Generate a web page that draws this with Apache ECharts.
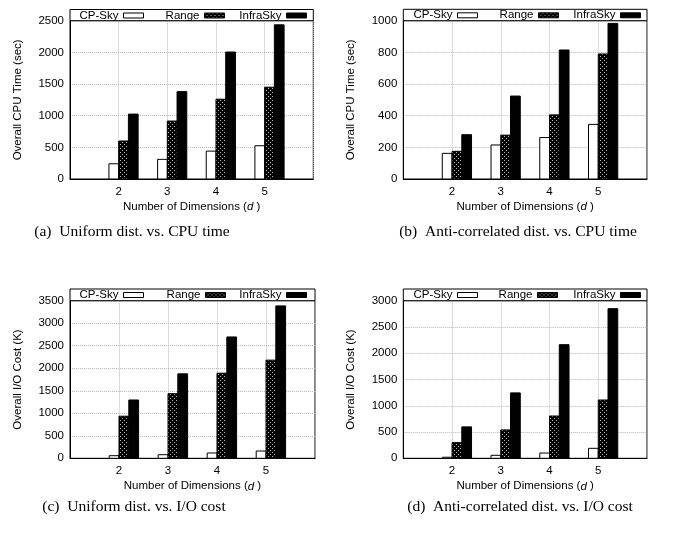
<!DOCTYPE html>
<html>
<head>
<meta charset="utf-8">
<script src="https://cdn.jsdelivr.net/npm/echarts@6/dist/echarts.min.js"></script>
<style>
html,body{margin:0;padding:0;background:#fff;}
#chart{width:692px;height:533px;}
</style>
</head>
<body>
<div id="chart"></div>
<script>
// ---- data ----
const dims = [2, 3, 4, 5];
const seriesNames = ['CP-Sky', 'Range', 'InfraSky'];
// (a) Uniform dist. vs. CPU time (sec)
const aCPSky = [240, 310, 440, 525];
const aRange = [600, 915, 1260, 1450];
const aInfra = [1025, 1380, 2005, 2435];
// (b) Anti-correlated dist. vs. CPU time (sec)
const bCPSky = [162, 215, 262, 345];
const bRange = [175, 277, 405, 790];
const bInfra = [280, 524, 815, 983];
// (c) Uniform dist. vs. I/O cost (K)
const cCPSky = [58, 80, 118, 162];
const cRange = [935, 1435, 1890, 2180];
const cInfra = [1295, 1875, 2695, 3385];
// (d) Anti-correlated dist. vs. I/O cost (K)
const dCPSky = [20, 57, 100, 190];
const dRange = [298, 540, 805, 1110];
const dInfra = [598, 1245, 2163, 2848];
// axis ticks
const yMax = [2500, 1000, 3500, 3000];
const yStep = [500, 200, 500, 500];
const xMin = 1, xMax = 6;
const yTitles = ['Overall CPU Time (sec)', 'Overall CPU Time (sec)', 'Overall I/O Cost (K)', 'Overall I/O Cost (K)'];
const captions = ['(a)\u2002Uniform dist. vs. CPU time', '(b)\u2002Anti-correlated dist. vs. CPU time',
                  '(c)\u2002Uniform dist. vs. I/O cost', '(d)\u2002Anti-correlated dist. vs. I/O cost'];

const panels = [
  [aCPSky, aRange, aInfra],
  [bCPSky, bRange, bInfra],
  [cCPSky, cRange, cInfra],
  [dCPSky, dRange, dInfra]
];

// ---- layout ----
const grids = [
  {left: 70, top: 20.7, width: 243.3, height: 158.3},
  {left: 403.3, top: 20.7, width: 243.7, height: 158.3},
  {left: 70, top: 300.7, width: 245, height: 157.6},
  {left: 403.3, top: 300.7, width: 243.7, height: 157.6}
];
const keyTop = [9.5, 9.3, 289, 289];
const iconRight = [[144, 225, 307], [478, 559, 641], [144, 226, 307], [478, 558, 641]];
const captionPos = [[132, 232], [518, 232], [134, 507], [520, 507]];

// dotted pattern for Range bars
const pc = document.createElement('canvas');
pc.width = 4; pc.height = 4;
const px = pc.getContext('2d');
px.fillStyle = '#000'; px.fillRect(0, 0, 4, 4);
px.fillStyle = '#b8b8b8';
px.fillRect(0, 0, 1, 1); px.fillRect(2, 2, 1, 1);
const rangePattern = {image: pc, repeat: 'repeat'};

const fills = ['#fff', rangePattern, '#000'];
const FONT = 'Liberation Sans, Arial, Helvetica, sans-serif';

const chart = echarts.init(document.getElementById('chart'), null, {renderer: 'canvas'});

const option = {
  animation: false,
  backgroundColor: '#fff',
  grid: [], xAxis: [], yAxis: [], series: [], legend: [], graphic: []
};

panels.forEach(function(vals, g) {
  option.grid.push(Object.assign({show: true, borderColor: '#000', borderWidth: 1, backgroundColor: 'transparent', containLabel: false}, grids[g]));
  option.xAxis.push({
    type: 'value', gridIndex: g, min: xMin, max: xMax, interval: 1,
    axisLine: {show: true, lineStyle: {color: '#000', width: 1}},
    axisTick: {show: false},
    axisLabel: {color: '#000', fontFamily: FONT, fontSize: 11.5, margin: 7,
      formatter: function(v){ return (v > xMin && v < xMax) ? String(v) : ''; }},
    splitLine: {show: true, lineStyle: {color: '#b8b8b8', type: 'dotted', width: 1}},
    name: '{n|Number of Dimensions (}{i|d}{n| )}',
    nameLocation: 'middle', nameGap: 22,
    nameTextStyle: {color: '#000', fontFamily: FONT, fontSize: 11.5,
      rich: {n: {fontFamily: FONT, fontSize: 11.5, color: '#000'},
             i: {fontFamily: FONT, fontSize: 11.5, fontStyle: 'italic', color: '#000'}}}
  });
  option.yAxis.push({
    type: 'value', gridIndex: g, min: 0, max: yMax[g], interval: yStep[g],
    axisLine: {show: true, lineStyle: {color: '#000', width: 1}},
    axisTick: {show: false},
    axisLabel: {color: '#000', fontFamily: FONT, fontSize: 11.5, margin: 6,
      formatter: function(v){ return String(v); }},
    splitLine: {show: true, lineStyle: {color: '#b8b8b8', type: 'dotted', width: 1}},
    name: yTitles[g], nameLocation: 'middle', nameGap: 46,
    nameTextStyle: {color: '#000', fontFamily: FONT, fontSize: 11.5}
  });
  vals.forEach(function(arr, k) {
    option.series.push({
      type: 'custom', name: seriesNames[k], xAxisIndex: g, yAxisIndex: g,
      itemStyle: {color: k === 1 ? '#222' : fills[k]},
      data: dims.map(function(d, i){ return [d, arr[i]]; }),
      renderItem: function(params, api) {
        const d = api.value(0), v = api.value(1);
        const left = api.coord([d + (k - 1) * 0.2, v]);
        const right = api.coord([d + k * 0.2, 0]);
        return {
          type: 'rect',
          shape: {x: left[0], y: left[1], width: right[0] - left[0], height: right[1] - left[1]},
          style: {fill: fills[k], stroke: '#000', lineWidth: 1}
        };
      },
      z: 3
    });
  });
  // key box
  option.graphic.push({
    type: 'rect', z: 1,
    shape: {x: grids[g].left, y: keyTop[g], width: grids[g].width, height: grids[g].top - keyTop[g]},
    style: {fill: '#fff', stroke: '#000', lineWidth: 1}
  });
  // legend entries
  seriesNames.forEach(function(nm, k) {
    option.legend.push({
      data: [{name: nm, icon: 'rect', itemStyle: {color: fills[k], borderColor: '#000', borderWidth: 1}}],
      align: 'right', orient: 'horizontal',
      right: 692 - iconRight[g][k], top: keyTop[g],
      itemWidth: 20, itemHeight: 5, padding: 0, selectedMode: false,
      textStyle: {color: '#000', fontFamily: FONT, fontSize: 11.5, padding: [0, 0, 0, 0]},
      z: 5
    });
  });
  // caption
  option.graphic.push({
    type: 'text', z: 5,
    x: captionPos[g][0], y: captionPos[g][1],
    style: {text: captions[g], align: 'center', verticalAlign: 'middle',
      font: '15.5px "Liberation Serif", "Times New Roman", serif', fill: '#000'}
  });
});

chart.setOption(option);
</script>
</body>
</html>
